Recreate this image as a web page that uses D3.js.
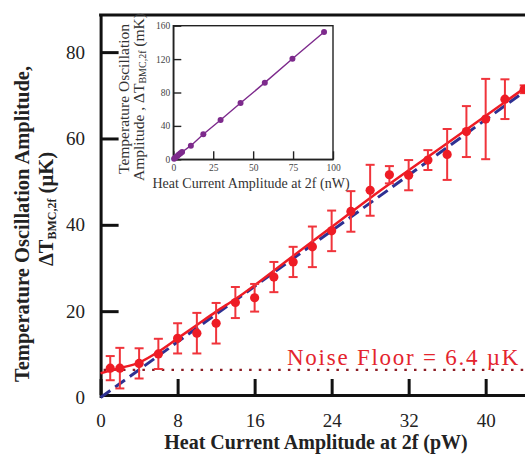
<!DOCTYPE html>
<html>
<head>
<meta charset="utf-8">
<script src="https://cdn.jsdelivr.net/npm/d3@7"></script>
<style>
  body { margin: 0; background: #fff; }
  svg text { font-family: "Liberation Serif", "Times New Roman", serif; }
</style>
</head>
<body>
<div id="chart"></div>
<script>
// data
const heatCurrent = [1, 2, 4, 6, 8, 10, 12, 14, 16, 18, 20, 22, 24, 26, 28, 30, 32, 34, 36, 38, 40, 42, 44];
const tempAmp = [6.8, 6.8, 7.9, 10.1, 13.7, 14.9, 17.2, 22.0, 23.1, 27.9, 31.4, 34.9, 38.6, 43.1, 48.0, 51.6, 51.5, 55.0, 56.3, 61.6, 64.5, 69.1, 71.4];
const tempErr = [2.8, 4.7, 3.5, 3.5, 3.5, 4.7, 4.7, 3.6, 3.2, 3.5, 3.5, 4.7, 4.7, 4.7, 5.9, 2.0, 3.5, 2.3, 5.9, 5.9, 9.3, 4.6, 0.9];

// fitted curve (red) and linear model (blue dashed)
const fitX = [0, 2, 4, 6, 8, 10, 12, 14, 20, 25, 28, 36, 44];
const fitRed = [5.6, 6.8, 8.1, 10.6, 13.7, 16.8, 19.9, 22.8, 32.8, 41.2, 46.2, 58.9, 71.6];
const lineX = [0, 44];
const lineBlue = [0, 70.8];

const noiseFloor = 6.4;
const xTicks = [0, 8, 16, 24, 32, 40];
const yTicks = [0, 20, 40, 60, 80];

// inset (nW range)
const insetPower = [0.5, 1.5, 2.5, 3.5, 4.5, 5.5, 11, 18.8, 29.6, 42.1, 57.3, 74.6, 94.4];
const insetTemp = [0.8, 2.4, 4.0, 5.6, 7.2, 8.8, 16.3, 30.0, 47.0, 67.4, 91.8, 120.5, 152.5];
const insetXTicks = [0, 25, 50, 75, 100];
const insetYTicks = [0, 40, 80, 120, 160];

const W = 525, H = 457;
const red = "#ee1c25";

const svg = d3.select("#chart").append("svg")
  .attr("width", W).attr("height", H);

const x = d3.scaleLinear().domain([0, 45]).range([100.6, 533.8]);
const y = d3.scaleLinear().domain([0, 88.6]).range([397.5, 15]);

// ---- axes ----
const xAxis = svg.append("g")
  .attr("transform", "translate(0,395)")
  .call(d3.axisBottom(x).tickValues(xTicks).tickSizeInner(-16).tickSizeOuter(0).tickPadding(18.5));
const yAxis = svg.append("g")
  .attr("transform", `translate(${x(0)},0)`)
  .call(d3.axisLeft(y).tickValues(yTicks).tickSizeInner(-18).tickSizeOuter(0).tickPadding(15.6));

[xAxis, yAxis].forEach(g => {
  g.select(".domain").attr("stroke", "#111").attr("stroke-width", 3);
  g.selectAll(".tick line").attr("stroke", "#111").attr("stroke-width", 3);
  g.selectAll(".tick text").attr("font-size", 19).attr("fill", "#222")
    .attr("font-family", "Liberation Serif, serif");
});
yAxis.selectAll(".tick").filter(d => d === 0).select("line").remove();

// top frame
svg.append("line")
  .attr("x1", x(0) - 1.5).attr("x2", W + 10)
  .attr("y1", y(88.6)).attr("y2", y(88.6))
  .attr("stroke", "#111").attr("stroke-width", 3);

// ---- noise floor ----
svg.append("line")
  .attr("x1", x(0) + 3).attr("x2", W + 10)
  .attr("y1", y(noiseFloor)).attr("y2", y(noiseFloor))
  .attr("stroke", "#8b1c24").attr("stroke-width", 2.3)
  .attr("stroke-dasharray", "2.5,7.2");

svg.append("text")
  .attr("x", 287).attr("y", 365)
  .attr("font-size", 23).attr("letter-spacing", 1.75)
  .attr("fill", "#e4242d")
  .text("Noise Floor = 6.4 \u00b5K");

// ---- model lines ----
const blueLine = d3.line().x((d, i) => x(lineX[i])).y(d => y(d));
svg.append("path")
  .attr("d", blueLine(lineBlue))
  .attr("fill", "none").attr("stroke", "#2e3192")
  .attr("stroke-width", 3).attr("stroke-dasharray", "12,6");

const redLine = d3.line().x((d, i) => x(fitX[i])).y(d => y(d)).curve(d3.curveMonotoneX);
svg.append("path")
  .attr("d", redLine(fitRed))
  .attr("fill", "none").attr("stroke", red).attr("stroke-width", 2.5);

// ---- data with error bars ----
const pts = heatCurrent.map((p, i) => ({ p, t: tempAmp[i], e: tempErr[i] }));
const bars = svg.append("g").attr("stroke", "#f0343b").attr("stroke-width", 2);
bars.selectAll(".ev").data(pts).enter().append("line")
  .attr("x1", d => x(d.p)).attr("x2", d => x(d.p))
  .attr("y1", d => y(d.t - d.e)).attr("y2", d => y(d.t + d.e));
bars.selectAll(".ct").data(pts).enter().append("line")
  .attr("x1", d => x(d.p) - 4.5).attr("x2", d => x(d.p) + 4.5)
  .attr("y1", d => y(d.t + d.e)).attr("y2", d => y(d.t + d.e));
bars.selectAll(".cb").data(pts).enter().append("line")
  .attr("x1", d => x(d.p) - 4.5).attr("x2", d => x(d.p) + 4.5)
  .attr("y1", d => y(d.t - d.e)).attr("y2", d => y(d.t - d.e));

svg.append("g").selectAll("circle").data(pts).enter().append("circle")
  .attr("cx", d => x(d.p)).attr("cy", d => y(d.t))
  .attr("r", 4.6).attr("fill", red);

// ---- axis titles ----
svg.append("text")
  .attr("x", 316).attr("y", 449)
  .attr("text-anchor", "middle").attr("font-size", 20).attr("font-weight", "bold")
  .attr("fill", "#222")
  .text("Heat Current Amplitude at 2f (pW)");

svg.append("text")
  .attr("transform", "translate(29,224) rotate(-90)")
  .attr("text-anchor", "middle").attr("font-size", 20.5).attr("font-weight", "bold")
  .attr("fill", "#222")
  .text("Temperature Oscillation Amplitude,");

const yt2 = svg.append("text")
  .attr("transform", "translate(53,209) rotate(-90)")
  .attr("text-anchor", "middle").attr("font-size", 20.5).attr("font-weight", "bold")
  .attr("fill", "#222");
yt2.append("tspan").text("\u0394T");
yt2.append("tspan").attr("font-size", 12).attr("dy", 3).text("BMC,2f");
yt2.append("tspan").attr("dy", -3).text(" (\u00b5K)");

// ---- inset ----
const ix = d3.scaleLinear().domain([0, 100]).range([173.3, 333]);
const iy = d3.scaleLinear().domain([0, 160]).range([159.3, 25.7]);
const inset = svg.append("g");

inset.append("rect")
  .attr("x", ix(0)).attr("y", iy(160))
  .attr("width", ix(100) - ix(0)).attr("height", iy(0) - iy(160))
  .attr("fill", "#fff").attr("stroke", "#222").attr("stroke-width", 1.4);

const ixAxis = inset.append("g").attr("transform", `translate(0,${iy(0)})`)
  .call(d3.axisBottom(ix).tickValues(insetXTicks).tickSizeInner(-8).tickSizeOuter(0).tickPadding(5));
const iyAxis = inset.append("g").attr("transform", `translate(${ix(0)},0)`)
  .call(d3.axisLeft(iy).tickValues(insetYTicks).tickSizeInner(-8).tickSizeOuter(0).tickPadding(3));
[ixAxis, iyAxis].forEach(g => {
  g.select(".domain").attr("stroke", "#222").attr("stroke-width", 1.4);
  g.selectAll(".tick line").attr("stroke", "#222").attr("stroke-width", 1.4);
  g.selectAll(".tick text").attr("font-size", 9.5).attr("fill", "#444")
    .attr("font-family", "Liberation Serif, serif");
});

const purple = "#7d2a8c";
const insetLine = d3.line().x((d, i) => ix(insetPower[i])).y(d => iy(d));
inset.append("path")
  .attr("d", insetLine(insetTemp))
  .attr("fill", "none").attr("stroke", purple).attr("stroke-width", 1.4);
inset.selectAll("circle").data(insetTemp).enter().append("circle")
  .attr("cx", (d, i) => ix(insetPower[i])).attr("cy", d => iy(d))
  .attr("r", 3).attr("fill", purple);

inset.append("text")
  .attr("x", 251).attr("y", 188)
  .attr("text-anchor", "middle").attr("font-size", 14).attr("fill", "#333")
  .text("Heat Current Amplitude at 2f (nW)");

inset.append("text")
  .attr("transform", "translate(129,99) rotate(-90)")
  .attr("text-anchor", "middle").attr("font-size", 15.5).attr("fill", "#333")
  .text("Temperature Oscillation");

const it2 = inset.append("text")
  .attr("transform", "translate(143.5,97) rotate(-90)")
  .attr("text-anchor", "middle").attr("font-size", 15.5).attr("fill", "#333");
it2.append("tspan").text("Amplitude , \u0394T");
it2.append("tspan").attr("font-size", 10).attr("dy", 2.5).text("BMC,2f");
it2.append("tspan").attr("dy", -2.5).text(" (mK)");
</script>
</body>
</html>
